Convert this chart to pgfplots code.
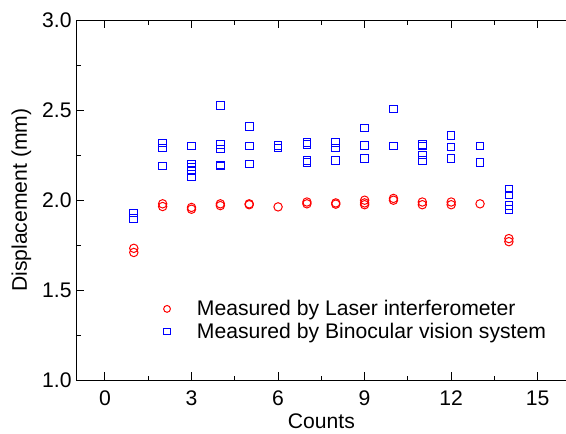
\documentclass[border=0pt]{standalone}
\usepackage{pgfplots}
\pgfplotsset{compat=1.18}
\usepackage{fontspec}
\setmainfont{Liberation Sans}
\newcommand{\bigf}{\fontsize{21.2}{25}\selectfont}
\pgfdeclareplotmark{bsq}{%
  \pgfsetstrokecolor{blue}\pgfsetlinewidth{1bp}%
  \pgfpathmoveto{\pgfpoint{-\pgfplotmarksize}{-\pgfplotmarksize}}%
  \pgfpathlineto{\pgfpoint{\pgfplotmarksize}{-\pgfplotmarksize}}%
  \pgfpathlineto{\pgfpoint{\pgfplotmarksize}{\pgfplotmarksize}}%
  \pgfpathlineto{\pgfpoint{-\pgfplotmarksize}{\pgfplotmarksize}}%
  \pgfpathclose
  \pgfusepathqstroke}
\pgfdeclareplotmark{rci}{%
  \pgfsetstrokecolor{red}\pgfsetlinewidth{1bp}%
  \pgfpathcircle{\pgfpointorigin}{\pgfplotmarksize}%
  \pgfusepathqstroke}
\begin{document}
\begin{tikzpicture}[font=\bigf]
\begin{axis}[
  scale only axis, width=490bp, height=360bp,
  xmin=-1, xmax=16, ymin=1.0, ymax=3.0,
  xtick={0,3,6,9,12,15}, ytick={1.0,1.5,2.0,2.5,3.0},
  minor x tick num=1, minor y tick num=1,
  tick align=inside,
  xtick pos=both, ytick pos=left,
  major tick length=8bp, minor tick length=4.5bp,
  axis line style={line width=1bp}, tick style={line width=1bp, black},
  /pgf/number format/assume math mode=true,
  tick label style={font=\bigf},
  label style={font=\bigf},
  yticklabel style={/pgf/number format/fixed, /pgf/number format/fixed zerofill, /pgf/number format/precision=1, xshift=-1bp},
  xticklabel style={yshift=-7bp},
  xlabel={Counts}, ylabel={Displacement (mm)},
  xlabel style={yshift=-1bp},
  ylabel style={yshift=4bp},
  legend style={draw=none, fill=none, at={(0.172,0.232)}, anchor=north west, row sep=3bp, font=\bigf,
    nodes={inner sep=1.5bp},
    /tikz/every odd column/.append style={column sep=25bp}},
  legend cell align=left,
  clip=false,
]
\addlegendimage{only marks, mark=rci, mark size=3.4bp}
\addlegendimage{only marks, mark=bsq, mark size=3.2bp}
\addplot[only marks, red, mark=rci, mark size=4.2bp, forget plot] coordinates {
(1,1.733) (1,1.71)
(2,1.98) (2,1.965)
(3,1.96) (3,1.95)
(4,1.98) (4,1.97)
(5,1.98) (5,1.975)
(6,1.963)
(7,1.99) (7,1.98)
(8,1.985) (8,1.978)
(9,2.00) (9,1.985) (9,1.975)
(10,2.01) (10,2.00)
(11,1.99) (11,1.975)
(12,1.99) (12,1.975)
(13,1.98)
(14,1.787) (14,1.77)
};
\addplot[only marks, blue, mark=bsq, mark size=3.8bp, forget plot] coordinates {
(1,1.928) (1,1.90)
(2,2.317) (2,2.29) (2,2.19)
(3,2.30) (3,2.20) (3,2.185) (3,2.165) (3,2.128)
(4,2.527) (4,2.31) (4,2.285) (4,2.195) (4,2.19)
(5,2.41) (5,2.30) (5,2.20)
(6,2.305) (6,2.29)
(7,2.32) (7,2.31) (7,2.22) (7,2.21)
(8,2.32) (8,2.29) (8,2.22)
(9,2.40) (9,2.305) (9,2.23)
(10,2.507) (10,2.30)
(11,2.31) (11,2.30) (11,2.25) (11,2.22)
(12,2.36) (12,2.295) (12,2.23)
(13,2.30) (13,2.21)
(14,2.062) (14,2.03) (14,1.97) (14,1.95)
};
\legend{Measured by Laser interferometer, Measured by Binocular vision system}
\end{axis}
\pgfresetboundingbox
\path[use as bounding box] ([shift={(-76bp,-53bp)}]current axis.south west) rectangle ([shift={(-0.6bp,20bp)}]current axis.north east);
\end{tikzpicture}
\end{document}
